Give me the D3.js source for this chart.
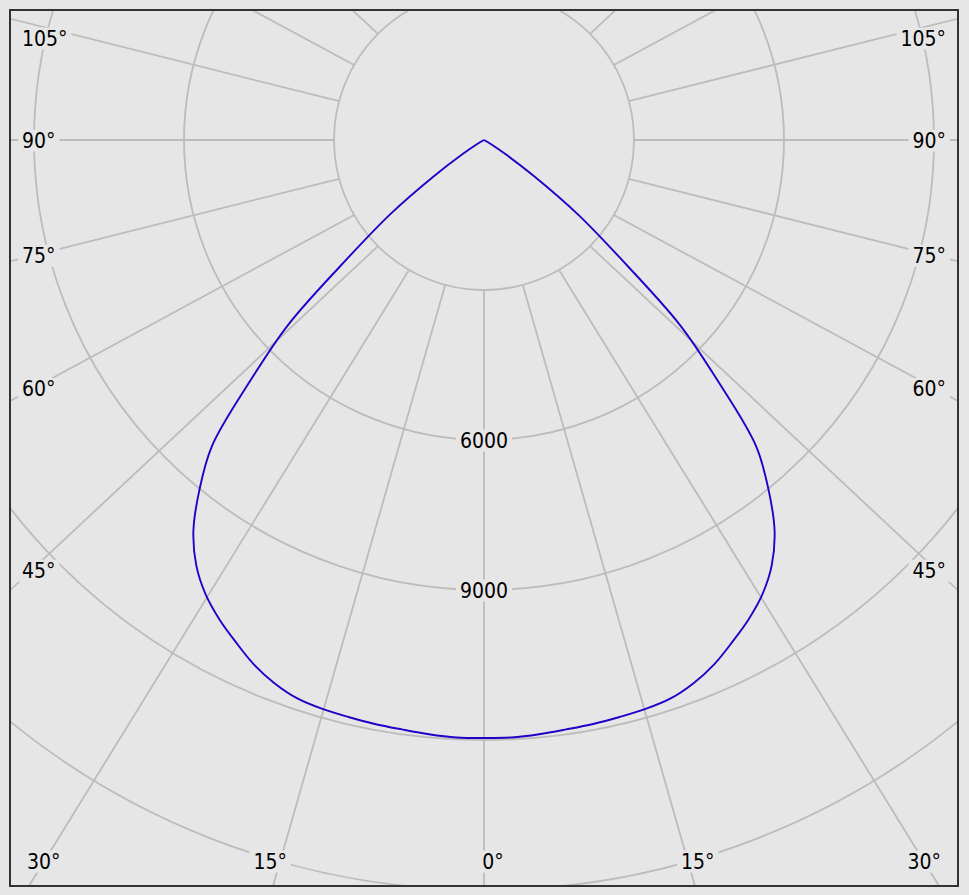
<!DOCTYPE html>
<html>
<head>
<meta charset="utf-8">
<script src="https://cdnjs.cloudflare.com/ajax/libs/d3/7.8.5/d3.min.js"></script>
<style>
  body { margin: 0; background: #e6e6e6; }
  svg { display: block; }
  .grid { fill: none; stroke: #bcbcbc; stroke-width: 1.8; }
  .lbl { font-family: "DejaVu Sans Condensed", "Noto Sans", sans-serif; font-size: 21px; fill: #000; }
</style>
</head>
<body>
<div class="chart"></div>
<script>
// Gamma angles (deg) and luminous intensity (cd), symmetric curve
var gammaAngles = [0, 2.5, 5, 7.5, 10, 12.5, 15, 17.5, 20, 22.5, 25, 27.5, 30, 32.5, 35, 37.5,
  40, 42.5, 45, 47.5, 50, 52.5, 55, 57.5, 60, 62.5, 65, 70, 75, 80, 85, 90];
var intensity = [11960, 11960, 11930, 11890, 11860, 11820, 11780, 11710, 11560, 11350, 11080, 10810,
  10500, 10100, 9560, 8820, 7980, 6520, 5220, 3440, 2300, 1200, 500, 160, 40, 0, 0, 0, 0, 0, 0, 0];

// grid rings and which of them carry a value label
var ringValues = [3000, 6000, 9000, 12000, 15000];
var ringLabels = [6000, 9000];

// radial spokes every 15 degrees
var spokeAngles = [-165, -150, -135, -120, -105, -90, -75, -60, -45, -30, -15, 0,
  15, 30, 45, 60, 75, 90, 105, 120, 135, 150, 165, 180];

// angle tick labels (shown on both sides)
var angleTicks = [0, 15, 30, 45, 60, 75, 90, 105];

var svgWidth = 969;
var svgHeight = 895;

// plot frame
var frame = { left: 10, top: 10, right: 958, bottom: 886 };
var cx = (frame.left + frame.right) / 2;
var cy = 140;

// the plot is a little wider than tall in data space
var xStretch = 1.06;

var rScale = d3.scaleLinear().domain([0, 3000]).range([0, 150]);

function project(angle, value) {
  var a = angle * Math.PI / 180;
  var r = rScale(value);
  return [cx + xStretch * r * Math.sin(a), cy + r * Math.cos(a)];
}

var svg = d3.select(".chart")
  .append("svg")
  .attr("width", svgWidth)
  .attr("height", svgHeight);

svg.append("defs").append("clipPath")
  .attr("id", "plotClip")
  .append("rect")
  .attr("x", frame.left)
  .attr("y", frame.top)
  .attr("width", frame.right - frame.left)
  .attr("height", frame.bottom - frame.top);

var plot = svg.append("g").attr("clip-path", "url(#plotClip)");

// rings
plot.append("g")
  .selectAll("circle")
  .data(ringValues)
  .enter()
  .append("circle")
  .attr("class", "grid")
  .attr("cx", cx)
  .attr("cy", cy)
  .attr("r", d => rScale(d));

// spokes start on the innermost ring
var innerR = rScale(ringValues[0]);
plot.append("g")
  .selectAll("line")
  .data(spokeAngles)
  .enter()
  .append("line")
  .attr("class", "grid")
  .attr("x1", d => cx + innerR * Math.sin(d * Math.PI / 180))
  .attr("y1", d => cy + innerR * Math.cos(d * Math.PI / 180))
  .attr("x2", d => project(d, 24000)[0])
  .attr("y2", d => project(d, 24000)[1]);

// label helper: text with a background patch that hides the grid
function addLabel(x, y, txt, anchor) {
  var g = plot.append("g");
  var t = g.append("text")
    .attr("class", "lbl")
    .attr("x", x)
    .attr("y", y)
    .attr("dy", "0.36em")
    .attr("text-anchor", anchor || "middle")
    .text(txt);
  var bb = t.node().getBBox();
  g.insert("rect", "text")
    .attr("x", bb.x - 4)
    .attr("y", bb.y + 1)
    .attr("width", bb.width + 8)
    .attr("height", bb.height - 2)
    .attr("fill", "#e6e6e6");
  return t;
}

// ring value labels along the 0 deg spoke
ringLabels.forEach(function(v) {
  addLabel(cx, cy + rScale(v), v);
});

// angle labels: on the side where the spoke leaves the plot
var inset = { left: 22, right: 946, top: 38, bottom: 861 };
angleTicks.forEach(function(t) {
  var sides = t === 0 ? [1] : [-1, 1];
  sides.forEach(function(s) {
    var a = t * Math.PI / 180;
    var dx = s * xStretch * Math.sin(a);
    var dy = Math.cos(a);
    var sideX = s < 0 ? 28 : 940;
    var yAtSide = dx !== 0 ? cy + dy * (sideX - cx) / dx : Infinity;
    if (yAtSide <= inset.bottom) {
      addLabel(s < 0 ? inset.left : inset.right, Math.max(inset.top, yAtSide),
        t + "\u00B0", s < 0 ? "start" : "end");
    } else {
      var xb = cx + dx * (inset.bottom - cy) / dy + s * 9;
      var lab = addLabel(xb, inset.bottom, t + "\u00B0");
      var w = lab.node().getBBox().width;
      var xc = Math.max(inset.left + 5 + w / 2, Math.min(inset.right - 5 - w / 2, xb));
      lab.remove();
      plot.select("g:last-child").remove();
      addLabel(xc, inset.bottom, t + "\u00B0");
    }
  });
});

// intensity curve, mirrored about 0 deg
var curvePoints = [];
for (var i = gammaAngles.length - 1; i > 0; i--) {
  curvePoints.push(project(-gammaAngles[i], intensity[i]));
}
for (var j = 0; j < gammaAngles.length; j++) {
  curvePoints.push(project(gammaAngles[j], intensity[j]));
}

plot.append("path")
  .datum(curvePoints)
  .attr("fill", "none")
  .attr("stroke", "#2200c8")
  .attr("stroke-width", 1.9)
  .attr("stroke-linejoin", "round")
  .attr("d", d3.line().curve(d3.curveCatmullRom.alpha(0.5)));

// frame
svg.append("rect")
  .attr("x", frame.left)
  .attr("y", frame.top)
  .attr("width", frame.right - frame.left)
  .attr("height", frame.bottom - frame.top)
  .attr("fill", "none")
  .attr("stroke", "#333")
  .attr("stroke-width", 2);
</script>
</body>
</html>
